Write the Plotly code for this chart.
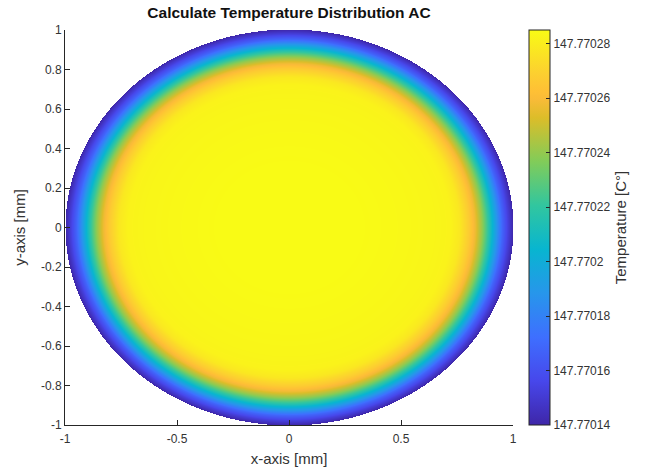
import numpy as np
import plotly.graph_objects as go

# ---- data ----
# radial temperature profile of the disk (r in mm, T in °C)
r_profile = [0.0, 0.30, 0.50, 0.65, 0.72, 0.76, 0.80, 0.83, 0.86, 0.89, 0.92, 0.95, 0.975, 1.0]
T_profile = [147.770285, 147.770285, 147.770284, 147.770283, 147.770282, 147.770278,
             147.770268, 147.770257, 147.770240, 147.770218, 147.770193, 147.770168,
             147.770153, 147.770140]

x_ticks = [-1, -0.5, 0, 0.5, 1]
x_ticklabels = ["-1", "-0.5", "0", "0.5", "1"]
y_ticks = [1, 0.8, 0.6, 0.4, 0.2, 0, -0.2, -0.4, -0.6, -0.8, -1]
y_ticklabels = ["1", "0.8", "0.6", "0.4", "0.2", "0", "-0.2", "-0.4", "-0.6", "-0.8", "-1"]
cb_ticks = [147.77028, 147.77026, 147.77024, 147.77022, 147.77020, 147.77018, 147.77016, 147.77014]
cb_ticklabels = ["147.77028", "147.77026", "147.77024", "147.77022", "147.7702",
                 "147.77018", "147.77016", "147.77014"]
c_min, c_max = 147.77014, 147.770285

# ---- grid built from the radial profile ----
xg = np.linspace(-1, 1, 449)
yg = np.linspace(-1, 1, 397)
X, Y = np.meshgrid(xg, yg)
R = np.sqrt(X**2 + Y**2)
Z = np.interp(R, r_profile, T_profile)
Z = np.round(Z, 9)
z_list = [[(float(v) if rr <= 1.0 else None) for v, rr in zip(zrow, rrow)]
          for zrow, rrow in zip(Z, R)]

# parula colormap
parula = [
    [0.0, "rgb(62,38,168)"],
    [1/9, "rgb(71,71,235)"],
    [2/9, "rgb(62,111,255)"],
    [3/9, "rgb(39,150,235)"],
    [4/9, "rgb(8,181,208)"],
    [5/9, "rgb(49,198,159)"],
    [6/9, "rgb(129,204,89)"],
    [7/9, "rgb(220,189,41)"],
    [0.825, "rgb(249,187,56)"],
    [0.845, "rgb(254,192,53)"],
    [8/9, "rgb(252,207,48)"],
    [1.0, "rgb(249,251,21)"],
]

fig = go.Figure(go.Heatmap(
    x=xg, y=yg, z=z_list,
    zmin=c_min, zmax=c_max,
    colorscale=parula,
    hoverongaps=False,
    colorbar=dict(
        x=(529 - 65) / 448, xanchor="left", xref="paper", xpad=0,
        y=0.5, yanchor="middle", len=1.0, lenmode="fraction", ypad=0,
        thickness=21,
        outlinewidth=1, outlinecolor="#262626",
        ticks="inside", ticklen=4, tickcolor="#262626",
        tickvals=cb_ticks, ticktext=cb_ticklabels,
        tickfont=dict(family="Liberation Sans", size=12, color="#333333"),
        title=dict(text="Temperature [C°]", side="right",
                   font=dict(family="Liberation Sans", size=15, color="#333333")),
    ),
))

axis_common = dict(
    showgrid=False, zeroline=False, showline=True, linecolor="#262626", linewidth=1,
    ticks="inside", ticklen=5, tickcolor="#262626", mirror=False, automargin=False,
    tickfont=dict(family="Liberation Sans", size=12, color="#333333"),
)

fig.update_layout(
    width=667, height=470,
    margin=dict(l=65, r=154, t=30, b=45),
    paper_bgcolor="white", plot_bgcolor="white",
    title=dict(text="<b>Calculate Temperature Distribution AC</b>",
               x=0.5, xref="paper", xanchor="center",
               y=1 - 13 / 470, yref="container", yanchor="middle",
               font=dict(family="Liberation Sans", size=15.5, color="#111111")),
    xaxis=dict(range=[-1, 1], tickvals=x_ticks, ticktext=x_ticklabels,
               ticklabelstandoff=3,
               title=dict(text="x-axis [mm]", standoff=8,
                          font=dict(family="Liberation Sans", size=15, color="#333333")),
               **axis_common),
    yaxis=dict(range=[-1, 1], tickvals=y_ticks, ticktext=y_ticklabels,
               title=dict(text="y-axis [mm]", standoff=11,
                          font=dict(family="Liberation Sans", size=15, color="#333333")),
               **axis_common),
)

fig.write_html("out.html", config={"displayModeBar": False},
               post_script="document.body.style.margin='0';document.body.style.overflow='hidden';")
